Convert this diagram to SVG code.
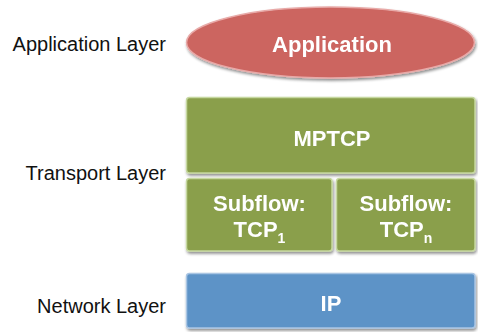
<svg xmlns="http://www.w3.org/2000/svg" width="478" height="332" viewBox="0 0 478 332">
  <defs>
    <filter id="shadow" x="-10%" y="-10%" width="120%" height="130%">
      <feGaussianBlur in="SourceAlpha" stdDeviation="1.5"/>
      <feOffset dx="1" dy="2" result="b"/>
      <feComponentTransfer><feFuncA type="linear" slope="0.45"/></feComponentTransfer>
      <feMerge><feMergeNode/><feMergeNode in="SourceGraphic"/></feMerge>
    </filter>
  </defs>
  <style>
    .lbl { font-family: "Liberation Sans", Arial, sans-serif; font-size: 20px; fill: #111; text-anchor: end; }
    .txt { font-family: "Liberation Sans", Arial, sans-serif; font-size: 22px; font-weight: bold; fill: #fff; text-anchor: middle; }
    .sub { font-size: 14px; }
    .green { fill: #8a9f4b; stroke: #c6d8a0; stroke-width: 1.5; }
    .red { fill: #cc6561; stroke: #e8aaa8; stroke-width: 1.5; }
    .blue { fill: #5d93c7; stroke: #a9c5e3; stroke-width: 1.5; }
  </style>
  <rect width="478" height="332" fill="#fff"/>
  <g id="labels">
    <text class="lbl" x="166" y="51">Application Layer</text>
    <text class="lbl" x="166" y="180">Transport Layer</text>
    <text class="lbl" x="166" y="313">Network Layer</text>
  </g>
  <g id="connectors"></g>
  <g id="application" filter="url(#shadow)">
    <ellipse class="red" cx="330.5" cy="42.5" rx="144" ry="35.5"/>
    <text class="txt" x="332" y="52">Application</text>
  </g>
  <g id="mptcp" filter="url(#shadow)">
    <rect class="green" x="186.5" y="97.5" width="288.5" height="75.5" rx="3"/>
    <text class="txt" x="332" y="146">MPTCP</text>
  </g>
  <g id="subflow1" filter="url(#shadow)">
    <rect class="green" x="186.5" y="178.5" width="145.5" height="72.5" rx="3"/>
    <text class="txt" x="259.5" y="211">Subflow:</text>
    <text class="txt" x="259.5" y="237">TCP<tspan class="sub" dy="6">1</tspan></text>
  </g>
  <g id="subflown" filter="url(#shadow)">
    <rect class="green" x="336.5" y="178.5" width="138.5" height="72.5" rx="3"/>
    <text class="txt" x="406" y="211">Subflow:</text>
    <text class="txt" x="406" y="237">TCP<tspan class="sub" dy="6">n</tspan></text>
  </g>
  <g id="ip" filter="url(#shadow)">
    <rect class="blue" x="186.5" y="273.5" width="288.5" height="54.5" rx="3"/>
    <text class="txt" x="331" y="311">IP</text>
  </g>
</svg>
